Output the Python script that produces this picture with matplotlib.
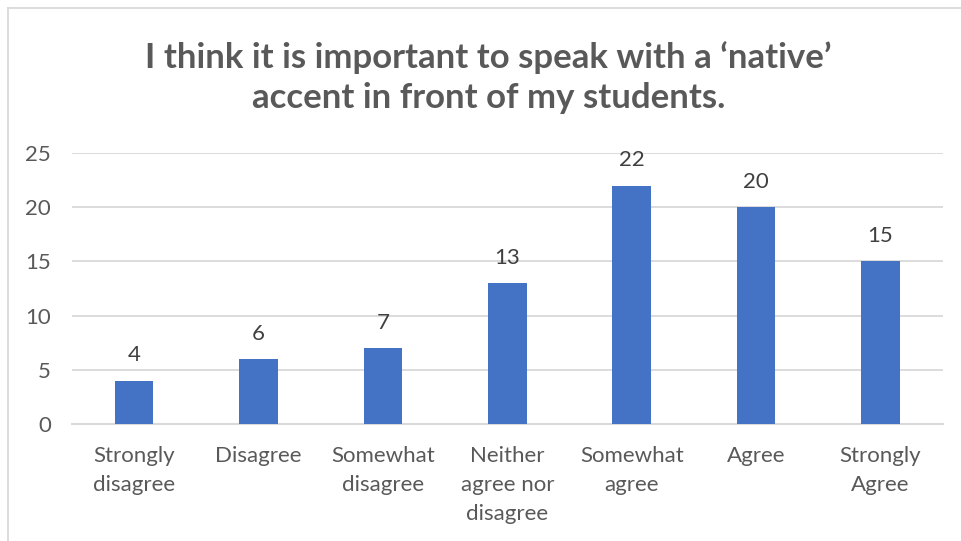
import matplotlib
matplotlib.use("Agg")
import matplotlib.pyplot as plt
from matplotlib.lines import Line2D

# survey responses
categories = ["Strongly\ndisagree", "Disagree", "Somewhat\ndisagree",
              "Neither\nagree nor\ndisagree", "Somewhat\nagree", "Agree",
              "Strongly\nAgree"]
counts = [4, 6, 7, 13, 22, 20, 15]
yticks = [0, 5, 10, 15, 20, 25]

title = "I think it is important to speak with a \u2018native\u2019\naccent in front of my students."

plt.rcParams['font.family'] = ['Lato', 'DejaVu Sans']

fig = plt.figure(figsize=(9.61, 5.41), dpi=100)
ax = fig.add_axes([0.0749, 0.2163, 0.9061, 0.5009])

x = range(len(categories))
bars = ax.bar(x, counts, width=0.31, color='#4472C4', zorder=3)

for xi, v in zip(x, counts):
    ax.annotate(str(v), (xi, v), xytext=(0, 11), textcoords='offset points',
                ha='center', va='bottom', fontsize=16, color='#404040')

ax.set_xlim(-0.5, len(categories) - 0.5)
ax.set_ylim(0, 25)
ax.set_yticks(yticks)
ax.set_xticks(list(x))
ax.set_xticklabels(categories, fontsize=16, color='#595959', linespacing=1.55)
ax.tick_params(axis='y', labelsize=16, labelcolor='#595959', length=0, pad=15)
ax.tick_params(axis='x', length=0, pad=16)
ax.yaxis.grid(True, color='#d9d9d9', linewidth=1.3, zorder=0)
for s in ['top', 'right', 'left']:
    ax.spines[s].set_visible(False)
ax.spines['bottom'].set_color('#d9d9d9')
ax.spines['bottom'].set_linewidth(1.5)

fig.text(0.508, 0.857, title, ha='center', va='center', fontsize=25,
         fontweight='bold', color='#595959', linespacing=1.3)

# chart border (left and top edges)
fig.add_artist(Line2D([0.0085, 0.0085], [0, 0.985], color='#d9d9d9', lw=1.3,
                      transform=fig.transFigure))
fig.add_artist(Line2D([0.0085, 1.0], [0.985, 0.985], color='#d9d9d9', lw=1.3,
                      transform=fig.transFigure))

fig.savefig("out.png", dpi=100)
